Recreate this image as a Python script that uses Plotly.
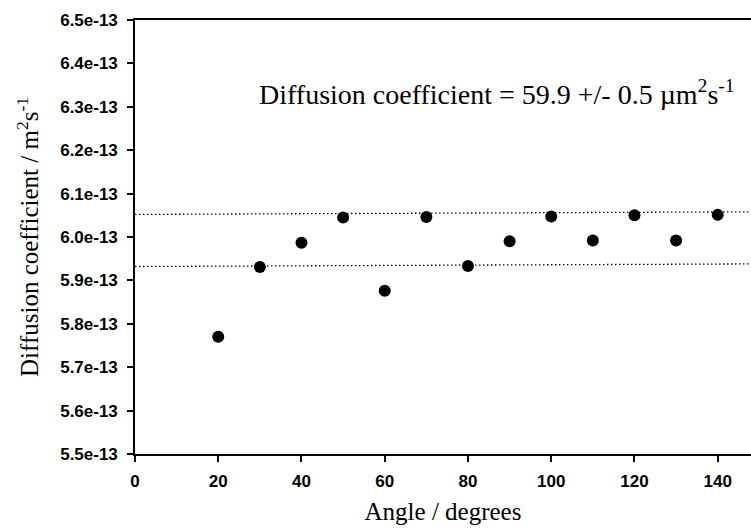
import plotly.graph_objects as go

# Data
angles = [20, 30, 40, 50, 60, 70, 80, 90, 100, 110, 120, 130, 140]
diff_coeff = [5.770e-13, 5.931e-13, 5.987e-13, 6.045e-13, 5.876e-13, 6.046e-13,
              5.933e-13, 5.990e-13, 6.047e-13, 5.992e-13, 6.050e-13, 5.992e-13, 6.051e-13]

band_x = [0, 148]
upper_band = [6.052e-13, 6.058e-13]
lower_band = [5.932e-13, 5.938e-13]

y_tick_vals = [5.5e-13, 5.6e-13, 5.7e-13, 5.8e-13, 5.9e-13, 6.0e-13,
               6.1e-13, 6.2e-13, 6.3e-13, 6.4e-13, 6.5e-13]
y_tick_text = ["5.5e-13", "5.6e-13", "5.7e-13", "5.8e-13", "5.9e-13", "6.0e-13",
               "6.1e-13", "6.2e-13", "6.3e-13", "6.4e-13", "6.5e-13"]
x_tick_vals = [0, 20, 40, 60, 80, 100, 120, 140]

fig = go.Figure()

dotted = dict(color="black", width=1.3, dash="1.5px,2.5px")
fig.add_trace(go.Scatter(x=band_x, y=upper_band, mode="lines", line=dotted,
                         showlegend=False, hoverinfo="skip"))
fig.add_trace(go.Scatter(x=band_x, y=lower_band, mode="lines", line=dotted,
                         showlegend=False, hoverinfo="skip"))
fig.add_trace(go.Scatter(x=angles, y=diff_coeff, mode="markers",
                         marker=dict(color="black", size=12, line=dict(width=0)),
                         showlegend=False))

tick_font = dict(family="Liberation Sans, Arial, sans-serif", size=17, color="black", weight="bold")
title_font = dict(family="Liberation Serif, Times New Roman, serif", size=25, color="black")

fig.update_layout(
    width=751, height=529,
    margin=dict(l=135, r=0, t=20, b=75),
    paper_bgcolor="white", plot_bgcolor="white",
    xaxis=dict(
        range=[0, 148], tickmode="array", tickvals=x_tick_vals,
        showline=True, linecolor="black", linewidth=1.5, mirror=True,
        ticks="outside", ticklen=6, tickwidth=1.5, tickcolor="black",
        showgrid=False, zeroline=False, tickfont=tick_font,
        ticklabelstandoff=5,
        title=dict(text="Angle / degrees", font=title_font, standoff=12),
    ),
    yaxis=dict(
        range=[5.5e-13, 6.5e-13], tickmode="array", tickvals=y_tick_vals,
        ticktext=y_tick_text,
        showline=True, linecolor="black", linewidth=1.5, mirror=False,
        ticks="outside", ticklen=6, tickwidth=1.5, tickcolor="black",
        showgrid=False, zeroline=False, tickfont=tick_font,
        ticklabelstandoff=6,
        title=dict(text="Diffusion coefficient / m<sup>2</sup>s<sup>-1</sup>",
                   font=title_font, standoff=14),
    ),
    annotations=[dict(
        text="Diffusion coefficient = 59.9 +/- 0.5 \u00b5m<sup>2</sup>s<sup>-1</sup>",
        xref="paper", yref="paper", x=0.977, y=0.832,
        xanchor="right", yanchor="middle", showarrow=False,
        font=dict(family="Liberation Serif, Times New Roman, serif", size=28, color="black"),
    )],
)

fig.write_html("out.html")
